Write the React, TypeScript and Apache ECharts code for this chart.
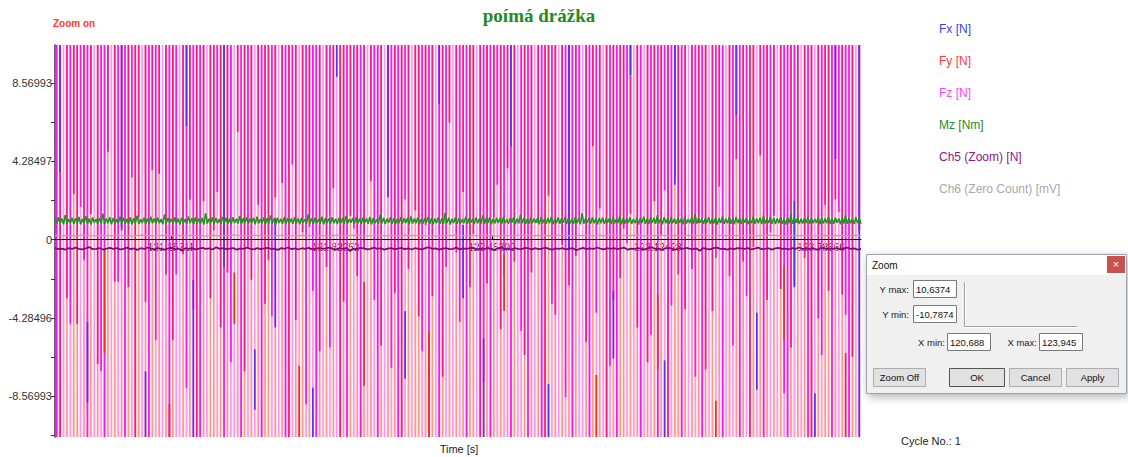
import React, { useEffect, useRef } from 'react';
import * as echarts from 'echarts';

// ---- axis extents (from the Zoom dialog) ----
const X_MIN = 120.688;
const X_MAX = 123.945;
const Y_MIN = -10.7874;
const Y_MAX = 10.6374;

// ---- tick labels ----
const yLabelValues = [-8.56993, -4.28496, 0, 4.28497, 8.56993];
const yTickValues = [-10.71245, -8.56993, -6.42745, -4.28496, -2.14248, 0, 2.14248, 4.28497, 6.42745, 8.56993];
const xLabelValues = [121.15711, 121.82252, 122.453, 123.12428, 123.78366];

// ---- legend ----
const legendNames = ['Fx [N]', 'Fy [N]', 'Fz [N]', 'Mz [Nm]', 'Ch5 (Zoom) [N]', 'Ch6 (Zero Count) [mV]'];
const legendColors = ['#3c3cff', '#ff3a3a', '#ff44ff', '#2a8a2a', '#8a1a8a', '#a8a8a8'];

// ---- sampling: number of sample slots in the zoom window ----
const SLOT_COUNT = 236;

// Fy [N]: off-scale spikes, [slot, lower end of the strong part]
const fyStripes: [number, number][] = [
  [1,-10.8],[3,-3.2],[5,2.5],[6,-4.6],[8,-1.1],
  [10,1.4],[12,-6.8],[15,4.8],[17,-2.3],[19,0.7],
  [21,-2.6],[23,-10.8],[24,1.2],[26,-3.4],[28,3.8],
  [30,3.6],[32,-1.9],[34,-5.5],[37,-0.8],[39,2.2],
  [41,-10.8],[43,2.1],[45,-3.2],[46,0.5],[48,-4.8],
  [50,-1.8],[53,5.9],[55,-7.2],[57,-2.2],[59,1.9],
  [61,-3.5],[62,-1.1],[64,2.3],[66,3.1],[68,-10.8],
  [70,-4.4],[72,0.4],[74,0.7],[77,-6.1],[79,-1.5],
  [81,2.8],[83,-10.8],[84,-3.4],[86,1.3],[88,-2.0],
  [90,-0.5],[92,3.2],[95,-5.8],[97,4.3],[99,-2.9],
  [101,-10.8],[103,-1.6],[105,1.6],[106,-4.2],[108,0.8],
  [110,-3.1],[113,-7.5],[115,6.4],[117,-0.7],[119,2.6],
  [121,-2.6],[122,0.3],[124,-10.8],[126,-2.4],[128,1.2],
  [130,-4.9],[132,3.9],[134,-1.2],[137,-6.3],[139,-1.8],
  [141,0.9],[143,-10.8],[144,2.4],[146,-4.1],[148,-0.3],
  [150,-2.5],[152,-0.9],[155,-5.6],[157,5.1],[159,1.7],
  [161,-10.8],[163,-3.3],[165,-2.1],[166,0.6],[168,1.4],
  [170,-4.8],[173,-6.7],[175,2.1],[177,0.2],[179,-10.8],
  [181,3.3],[182,-1.9],[184,-3.8],[186,-1.6],[188,0.9],
  [190,-7.1],[192,-3.9],[194,2.9],[197,-2.0],[199,4.4],
  [201,-1.2],[203,-10.8],[204,-0.4],[206,4.6],[208,-3.3],
  [210,1.3],[212,-2.7],[215,-5.9],[217,0.9],[219,-1.0],
  [221,-10.8],[223,-4.3],[225,1.9],[226,-2.8],[228,2.2],
  [230,-3.0],[233,-6.4],[235,0.5]
];

// Fz [N]: off-scale spikes, [slot, lower end of the strong part | null]
const fzStripes: [number, number | null][] = [
  [0,-10.8],[2,null],[4,-4.6],[7,1.8],[9,-10.8],
  [11,null],[13,-7.2],[14,-10.8],[16,null],[18,-2.3],
  [20,-10.8],[22,3.4],[25,null],[27,-10.8],[29,-5.5],
  [31,null],[33,-10.8],[35,-1.9],[36,null],[38,-8.1],
  [40,-3.8],[42,-10.8],[44,null],[47,2.6],[49,-10.8],
  [51,-6.7],[52,null],[54,-10.8],[56,-0.4],[58,null],
  [60,-10.8],[63,-4.2],[65,null],[67,-10.8],[69,4.1],
  [71,null],[73,-9.0],[75,-2.8],[76,-10.8],[78,null],
  [80,-5.9],[82,null],[85,-10.8],[87,0.6],[89,-10.8],
  [91,null],[93,-3.3],[94,-10.8],[96,null],[98,-7.0],
  [100,-10.8],[102,2.2],[104,null],[107,-6.1],[109,-10.8],
  [111,null],[112,-10.8],[114,-1.5],[116,null],[118,-4.5],
  [120,-10.8],[123,null],[125,-7.8],[127,-10.8],[129,3.0],
  [131,-2.0],[133,-10.8],[135,null],[136,-5.0],[138,-10.8],
  [140,null],[142,-10.8],[145,-3.5],[147,null],[149,-8.6],
  [151,-10.8],[153,1.1],[154,null],[156,-10.8],[158,-4.0],
  [160,null],[162,-6.9],[164,-10.8],[167,-0.2],[169,null],
  [171,-10.8],[172,null],[174,-5.2],[176,-10.8],[178,2.7],
  [180,-3.6],[183,-10.8],[185,null],[187,-7.5],[189,-10.8],
  [191,null],[193,-1.0],[195,-10.8],[196,null],[198,-5.8],
  [200,-10.8],[202,-3.1],[205,null],[207,-10.8],[209,0.4],
  [211,null],[213,-8.4],[214,-10.8],[216,-2.5],[218,null],
  [220,-10.8],[222,null],[224,-6.3],[227,-10.8],[229,1.5],
  [231,-4.1],[232,-10.8],[234,null]
];

// Fy [N]: in-range red segments [slot, from, to]
const fyRedSegments: [number, number, number][] = [
  [14,-0.5,-6.2],[33,-9.0,-10.8],[52,-1.8,-4.6],[71,-6.9,-10.8],[90,-2.3,-8.0],
  [109,-5.0,-10.8],[131,-0.8,-3.9],[158,-7.4,-10.8],[176,-3.0,-7.1],[193,-8.8,-10.8],
  [213,-1.4,-5.5],[231,-6.2,-10.8]
];

// Fx [N]: segments [slot, from, to]
const fxSegments: [number, number, number][] = [
  [1,10.7,3.7],[19,10.7,0.5],[38,10.7,6.2],[49,10.7,-1.5],[64,1.2,-4.8],[82,10.7,8.9],
  [97,10.7,2.3],[112,10.7,7.4],[119,0.8,-3.2],[133,10.7,5.1],[150,10.7,-0.6],[168,10.7,9.0],
  [181,10.7,3.0],[199,10.7,6.8],[216,2.1,-2.6],[228,10.7,4.4],[235,10.7,-10.8],
  [9,-4.5,-8.9],[26,-7.2,-10.8],[40,-2.2,-10.8],[58,-6.0,-9.3],[75,-8.1,-10.8],
  [102,-3.9,-7.6],[125,-5.4,-10.8],[144,-7.9,-10.8],[163,-2.8,-6.5],[178,-6.6,-10.8],
  [205,-4.0,-8.2],[222,-8.4,-10.8]
];

// Mz [Nm]
const mzValues = [
  1.18,0.86,1.22,0.90,1.15,0.84,1.35,0.88,1.12,0.92,1.20,0.85,1.17,0.89,1.24,0.83,1.14,0.91,1.28,0.87,
  1.16,0.82,1.21,0.93,1.13,0.86,1.19,0.88,1.42,0.85,1.15,0.90,1.23,0.84,1.18,0.89,1.12,0.87,1.26,0.92,
  1.19,0.85,1.14,0.88,1.22,0.83,1.17,0.90,1.31,0.86,1.13,0.91,1.20,0.87,1.16,0.84,1.25,0.89,1.15,0.86,
  1.21,0.90,1.13,0.84,1.38,0.87,1.18,0.92,1.14,0.85,1.23,0.88,1.16,0.83,1.20,0.91,1.12,0.86,1.27,0.89,
  1.17,0.84,1.22,0.90,1.15,0.87,1.19,0.82,1.45,0.88,1.14,0.91,1.21,0.85,1.18,0.89,1.13,0.86,1.24,0.90,
  1.20,0.87,1.16,0.83,1.23,0.91,1.14,0.88,1.29,0.85,1.17,0.90,1.22,0.86,1.15,0.92,1.19,0.84,1.26,0.88,
  1.13,0.89,1.21,0.85,1.17,0.90,1.33,0.86,1.15,0.83,1.20,0.91,1.14,0.87,1.24,0.84,1.18,0.90,1.16,0.86,
  1.22,0.88,1.15,0.84,1.19,0.92,1.13,0.86,1.40,0.89,1.17,0.85,1.21,0.90,1.14,0.87,1.25,0.83,1.18,0.91,
  1.16,0.86,1.23,0.89,1.14,0.85,1.20,0.90,1.17,0.84,1.30,0.88,1.13,0.92,1.19,0.86,1.22,0.89,1.15,0.85,
  1.21,0.91,1.16,0.87,1.24,0.84,1.18,0.90,1.12,0.86,1.36,0.89,1.20,0.85,1.15,0.92,1.23,0.87,1.17,0.84,
  1.14,0.89,1.22,0.86,1.17,0.91,1.19,0.83,1.27,0.88,1.15,0.90,1.21,0.85,1.13,0.87,1.18,0.92,1.24,0.86,
  1.19,0.84,1.15,0.90,1.23,0.87,1.16,0.85,1.48,0.89,1.20,0.83,1.14,0.91,1.22,0.86,1.17,0.88,1.13,0.90,
  1.25,0.86,1.18,0.92,1.14,0.84,1.21,0.89,1.16,0.87,1.32,0.85,1.19,0.90,1.23,0.83,1.15,0.88,1.20,0.91,
  1.17,0.85,1.24,0.89,1.13,0.86,1.19,0.92,1.22,0.84,1.15,0.88,1.37,0.90,1.18,0.85,1.14,0.87,1.21,0.89,
  1.16,0.91,1.20,0.84,1.23,0.88,1.15,0.86,1.18,0.90,1.26,0.83,1.14,0.89,1.21,0.87,1.17,0.92,1.24,0.85,
  1.19,0.88,1.13,0.85,1.22,0.90,1.17,0.84,1.43,0.87,1.15,0.91,1.20,0.86,1.23,0.89,1.16,0.83,1.18,0.90,
  1.21,0.86,1.15,0.92,1.18,0.85,1.24,0.88,1.14,0.90,1.29,0.84,1.19,0.87,1.16,0.91,1.22,0.86,1.13,0.89,
  1.20,0.83,1.17,0.90,1.25,0.87,1.14,0.85,1.21,0.91,1.18,0.86,1.34,0.89,1.15,0.84,1.23,0.90,1.16,0.87,
  1.22,0.89,1.14,0.86,1.19,0.91,1.16,0.84,1.24,0.88,1.13,0.90,1.20,0.85,1.41,0.87,1.17,0.92,1.15,0.86,
  1.18,0.90,1.23,0.85,1.15,0.88,1.20,0.83,1.17,0.91,1.27,0.86,1.14,0.89,1.22,0.87,1.19,0.84,1.24,0.90,
  1.15,0.87,1.21,0.92,1.18,0.84,1.13,0.89,1.25,0.86,1.16,0.90,1.20,0.85,1.31,0.88,1.14,0.91,1.22,0.86,
  1.19,0.85,1.16,0.90,1.23,0.87,1.15,0.83,1.20,0.89,1.38,0.86,1.17,0.92,1.21,0.85,1.14,0.88,1.18,0.90,
  1.24,0.86,1.17,0.89,1.13,0.91,1.22,0.84,1.19,0.88,1.15,0.90,1.26,0.85,1.18,0.87,1.20,0.92,1.16,0.84,
  1.21,0.88,1.33,0.86,1.17,0.90,1.14,0.85,1.23,0.89,1.19,0.87
];

// Ch5 (Zoom) [N]
const ch5Values = [
  -0.47,-0.52,-0.49,-0.55,-0.46,-0.51,-0.44,-0.50,-0.53,-0.48,-0.41,-0.52,-0.50,-0.46,-0.54,-0.49,-0.45,-0.51,-0.47,-0.53,
  -0.50,-0.44,-0.52,-0.48,-0.56,-0.47,-0.51,-0.43,-0.49,-0.53,-0.46,-0.50,-0.55,-0.48,-0.45,-0.52,-0.49,-0.60,-0.47,-0.51,
  -0.46,-0.53,-0.49,-0.45,-0.51,-0.48,-0.54,-0.42,-0.50,-0.47,-0.52,-0.49,-0.46,-0.55,-0.48,-0.51,-0.44,-0.50,-0.53,-0.47,
  -0.52,-0.48,-0.45,-0.51,-0.49,-0.56,-0.46,-0.50,-0.43,-0.52,-0.48,-0.54,-0.47,-0.50,-0.45,-0.53,-0.49,-0.46,-0.51,-0.48,
  -0.44,-0.51,-0.53,-0.47,-0.50,-0.46,-0.62,-0.49,-0.52,-0.45,-0.48,-0.53,-0.50,-0.44,-0.51,-0.47,-0.55,-0.49,-0.46,-0.52,
  -0.49,-0.45,-0.52,-0.48,-0.54,-0.46,-0.50,-0.53,-0.47,-0.41,-0.51,-0.48,-0.55,-0.49,-0.46,-0.52,-0.50,-0.44,-0.53,-0.48,
  -0.51,-0.47,-0.45,-0.53,-0.49,-0.52,-0.46,-0.50,-0.57,-0.48,-0.44,-0.51,-0.49,-0.54,-0.47,-0.50,-0.52,-0.45,-0.48,-0.53,
  -0.46,-0.52,-0.49,-0.44,-0.51,-0.55,-0.48,-0.50,-0.46,-0.53,-0.49,-0.47,-0.58,-0.50,-0.45,-0.52,-0.48,-0.51,-0.43,-0.49,
  -0.53,-0.47,-0.50,-0.46,-0.52,-0.48,-0.44,-0.55,-0.49,-0.51,-0.46,-0.50,-0.53,-0.47,-0.42,-0.51,-0.49,-0.54,-0.48,-0.45,
  -0.50,-0.54,-0.47,-0.51,-0.45,-0.49,-0.52,-0.48,-0.61,-0.46,-0.50,-0.53,-0.47,-0.44,-0.51,-0.49,-0.55,-0.48,-0.52,-0.46,
  -0.48,-0.51,-0.46,-0.53,-0.49,-0.44,-0.52,-0.50,-0.47,-0.55,-0.48,-0.45,-0.51,-0.49,-0.53,-0.46,-0.50,-0.43,-0.52,-0.48,
  -0.51,-0.47,-0.54,-0.49,-0.45,-0.52,-0.48,-0.50,-0.46,-0.53,-0.49,-0.44,-0.51,-0.48,-0.55,-0.50
];

// Ch6 (Zero Count) [mV]
const ch6Values = [
  0.24,0.21,0.23,0.19,0.25,0.22,0.20,0.24,0.21,0.26,0.22,0.19,0.23,0.25,0.21,0.22,0.24,0.20,0.23,0.21,
  0.25,0.22,0.19,0.24,0.21,0.23,0.26,0.20,0.22,0.24,0.21,0.23,0.19,0.25,0.22,0.20,0.24,0.21,0.23,0.22,
  0.20,0.25,0.21,0.23,0.24,0.19,0.22,0.26,0.21,0.23,0.20,0.24,0.22,0.25,0.21,0.19,0.23,0.22,0.24,0.20,
  0.23,0.21,0.25,0.22,0.19,0.24,0.21,0.23,0.26,0.20,0.22,0.24,0.21,0.23,0.25,0.19,0.22,0.24,0.20,0.23,
  0.21,0.25,0.22,0.20,0.24,0.23,0.19,0.22,0.25,0.21,0.24,0.20,0.23,0.22,0.26,0.21,0.19,0.24,0.22,0.23,
  0.20,0.25,0.21,0.23,0.24,0.22,0.19,0.23,0.21,0.25,0.22,0.20,0.24,0.21,0.23,0.22,0.24,0.21
];

// ---- layout ----
const GRID_TOP = 45;
const GRID_BOTTOM = 20;
const CHART_H = 457;
const PLOT_H = CHART_H - GRID_TOP - GRID_BOTTOM;
const ZERO_OFFSET = -((0 - Y_MIN) / (Y_MAX - Y_MIN)) * PLOT_H;

// ---- build tables for the library ----
const slotTime = (i: number) => X_MIN + ((i + 0.5) * (X_MAX - X_MIN)) / SLOT_COUNT;
const lineTimes = (n: number) => (j: number) => X_MIN + (j * (X_MAX - X_MIN)) / (n - 1);

const fyBase = fyStripes.map(([s]) => [slotTime(s), Y_MAX + 1, Y_MIN - 1]);
const fyStrong = fyStripes.map(([s, d]) => [slotTime(s), Y_MAX + 1, d]);
const fzBase = fzStripes.map(([s]) => [slotTime(s), Y_MAX + 1, Y_MIN - 1]);
const fzStrong = fzStripes.filter(([, d]) => d !== null).map(([s, d]) => [slotTime(s), Y_MAX + 1, d as number]);
const fyRed = fyRedSegments.map(([s, a, b]) => [slotTime(s), a, b]);
const fxData = fxSegments.map(([s, a, b]) => [slotTime(s), a, b]);
const mzData = mzValues.map((v, j) => [lineTimes(mzValues.length)(j), v]);
const ch5Data = ch5Values.map((v, j) => [lineTimes(ch5Values.length)(j), v]);
const ch6Data = ch6Values.map((v, j) => [lineTimes(ch6Values.length)(j), v]);

const FONT = '"Liberation Sans", Arial, sans-serif';

function stripe(color: string, width: number) {
  return (_params: any, api: any) => {
    const a = api.coord([api.value(0), api.value(1)]);
    const b = api.coord([api.value(0), api.value(2)]);
    return {
      type: 'line',
      shape: { x1: a[0], y1: a[1], x2: b[0], y2: b[1] },
      style: { stroke: color, lineWidth: width },
    };
  };
}

function stripeSeries(name: string, data: number[][], color: string, width: number) {
  return {
    type: 'custom',
    name,
    data,
    clip: true,
    silent: true,
    encode: { x: 0, y: [1, 2] },
    itemStyle: { color },
    renderItem: stripe(color, width),
  };
}

function txt(x: number, y: number, text: string, font: string, fill: string, align = 'left') {
  return { type: 'text', x, y, z: 20, style: { text, font, fill, align, verticalAlign: 'middle' } };
}
function box(x: number, y: number, w: number, h: number, fill: string, stroke: string, extra: any = {}) {
  return { type: 'rect', z: 20, shape: { x, y, width: w, height: h }, style: { fill, stroke, lineWidth: 1, ...extra } };
}
function seg(x1: number, y1: number, x2: number, y2: number, stroke: string) {
  return { type: 'line', z: 20, shape: { x1, y1, x2, y2 }, style: { stroke, lineWidth: 1 } };
}

const DF = '9.5px ' + FONT;

const dialog = [
  box(866.5, 254.5, 260, 139, '#f0f0f0', '#9aa4b0', { shadowBlur: 10, shadowColor: 'rgba(0,0,0,0.3)', shadowOffsetX: 2, shadowOffsetY: 3 }),
  box(867, 255, 259, 20, '#ffffff', 'none'),
  txt(872, 265, 'Zoom', '10px ' + FONT, '#111'),
  box(1107, 256, 18, 17, '#c8504f', 'none'),
  txt(1116, 264, '×', '11px ' + FONT, '#ffffff', 'center'),
  txt(909, 289, 'Y max:', DF, '#222', 'right'),
  txt(909, 314, 'Y min:', DF, '#222', 'right'),
  box(913.5, 280.5, 43, 17, '#ffffff', '#7a7a7a'),
  box(913.5, 305.5, 43, 17, '#ffffff', '#7a7a7a'),
  txt(916, 289, '10,6374', DF, '#111'),
  txt(916, 314, '-10,7874', DF, '#111'),
  seg(964.5, 282, 964.5, 326.5, '#a0a0a0'),
  seg(965.5, 282, 965.5, 326.5, '#ffffff'),
  seg(964.5, 326.5, 1077, 326.5, '#a0a0a0'),
  seg(964.5, 327.5, 1077, 327.5, '#ffffff'),
  txt(945, 342, 'X min:', DF, '#222', 'right'),
  txt(1037, 342, 'X max:', DF, '#222', 'right'),
  box(947.5, 333.5, 43, 17, '#ffffff', '#7a7a7a'),
  box(1039.5, 333.5, 43, 17, '#ffffff', '#7a7a7a'),
  txt(950, 342, '120,688', DF, '#111'),
  txt(1042, 342, '123,945', DF, '#111'),
  box(873.5, 368.5, 52, 18, '#e1e1e1', '#adadad'),
  box(949.5, 368.5, 55, 18, '#e1e1e1', '#555555'),
  box(1009.5, 368.5, 52, 18, '#e1e1e1', '#adadad'),
  box(1066.5, 368.5, 52, 18, '#e1e1e1', '#adadad'),
  txt(899.5, 377.5, 'Zoom Off', DF, '#111', 'center'),
  txt(977, 377.5, 'OK', DF, '#111', 'center'),
  txt(1035.5, 377.5, 'Cancel', DF, '#111', 'center'),
  txt(1092.5, 377.5, 'Apply', DF, '#111', 'center'),
];

const STRIPE_W = 1.7;

const option: any = {
  animation: false,
  backgroundColor: '#ffffff',
  grid: {
    left: 55, right: 267, top: GRID_TOP, bottom: GRID_BOTTOM,
    containLabel: false, outerBoundsMode: 'none',
    show: true, borderWidth: 0,
    backgroundColor: new echarts.graphic.LinearGradient(0, 0, 0, 1, [
      { offset: 0, color: '#ffffff' },
      { offset: 0.45, color: '#ffffff' },
      { offset: 1, color: '#fff2e8' },
    ]),
  },
  legend: {
    orient: 'vertical', left: 934, top: 22, padding: 0,
    itemWidth: 0, itemHeight: 14, itemGap: 18, icon: 'rect',
    selectedMode: false,
    textStyle: { fontSize: 12, fontFamily: FONT },
    data: legendNames.map((n, i) => ({ name: n, textStyle: { color: legendColors[i] } })),
  },
  xAxis: {
    type: 'value', min: X_MIN, max: X_MAX,
    offset: ZERO_OFFSET,
    axisLine: { show: true, onZero: false, lineStyle: { color: '#000', width: 1 } },
    axisTick: { show: true, inside: true, length: 4, customValues: xLabelValues, lineStyle: { color: '#000' } },
    axisLabel: {
      show: true, customValues: xLabelValues, margin: 3,
      formatter: (v: number) => v.toFixed(5),
      fontSize: 10, color: '#222', fontFamily: FONT,
    },
    splitLine: { show: false },
  },
  yAxis: {
    type: 'value', min: Y_MIN, max: Y_MAX,
    axisLine: { show: true, onZero: false, lineStyle: { color: '#333', width: 1.5 } },
    axisTick: { show: true, length: 4, customValues: yTickValues, lineStyle: { color: '#333' } },
    axisLabel: {
      show: true, customValues: yLabelValues, margin: 3,
      formatter: (v: number) => String(v),
      fontSize: 11, color: '#333', fontFamily: FONT,
    },
    splitLine: { show: false },
  },
  series: [
    stripeSeries('Fy [N]', fyBase, '#ff978c', STRIPE_W),
    stripeSeries('Fz [N]', fzBase, '#ff94ff', STRIPE_W),
    stripeSeries('Fy [N]', fyStrong, '#ff1483', STRIPE_W),
    stripeSeries('Fz [N]', fzStrong, '#ff10ff', STRIPE_W),
    stripeSeries('Fy [N]', fyRed, '#ff2626', STRIPE_W),
    stripeSeries('Fx [N]', fxData, '#5b2bff', STRIPE_W),
    {
      type: 'line', name: 'Mz [Nm]', data: mzData, symbol: 'none', z: 4,
      lineStyle: { color: '#1e951e', width: 1.5 }, itemStyle: { color: '#2a8a2a' },
    },
    {
      type: 'line', name: 'Ch6 (Zero Count) [mV]', data: ch6Data, symbol: 'none', z: 4,
      lineStyle: { color: '#a9a9a9', width: 1.3 }, itemStyle: { color: '#a8a8a8' },
      markLine: {
        silent: true, symbol: 'none', label: { show: false },
        lineStyle: { color: '#000', width: 1, type: 'solid' },
        data: [{ yAxis: 0 }],
      },
    },
    {
      type: 'line', name: 'Ch5 (Zoom) [N]', data: ch5Data, symbol: 'none', z: 4,
      lineStyle: { color: '#7a0a7a', width: 1.8 }, itemStyle: { color: '#8a1a8a' },
    },
  ],
  graphic: [
    txt(539, 15, 'poímá drážka', 'bold 19px "Liberation Serif", "Times New Roman", serif', '#1e8c1e', 'center'),
    txt(53, 23, 'Zoom on', 'bold 10px ' + FONT, '#ff3b2e'),
    txt(459, 449, 'Time [s]', '11px ' + FONT, '#222', 'center'),
    txt(901, 441, 'Cycle No.: 1', '11px ' + FONT, '#222'),
    ...dialog,
  ],
};

export default function App() {
  const ref = useRef<HTMLDivElement>(null);
  useEffect(() => {
    document.body.style.margin = '0';
    const chart = echarts.init(ref.current as HTMLDivElement, null, { renderer: 'svg' });
    chart.setOption(option);
    return () => chart.dispose();
  }, []);
  return <div ref={ref} style={{ width: 1128, height: 457 }} />;
}
